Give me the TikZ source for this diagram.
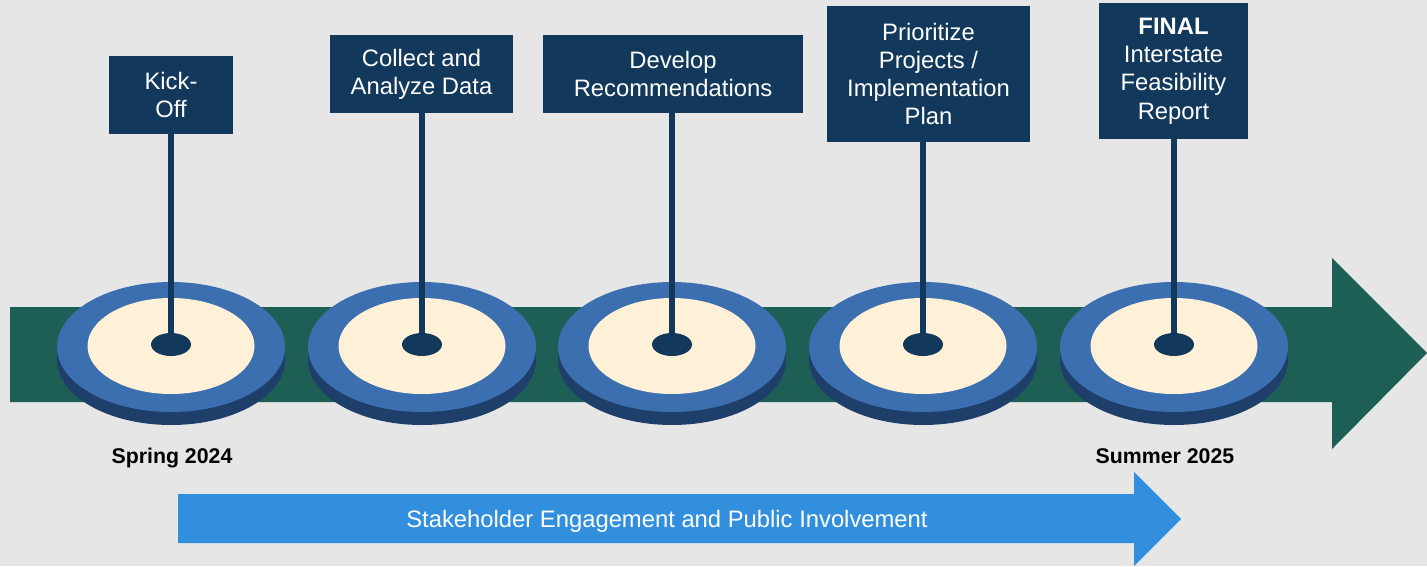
\documentclass[tikz,border=0pt]{standalone}
\usepackage{fontspec}
\setmainfont{Liberation Sans}
\definecolor{bg}{HTML}{E6E6E6}
\definecolor{tlgreen}{HTML}{1D5F55}
\definecolor{navy}{HTML}{12385B}
\definecolor{ring}{HTML}{3C6FB0}
\definecolor{ringside}{HTML}{1F3F6B}
\definecolor{cream}{HTML}{FFF1D8}
\definecolor{skyblue}{HTML}{318FDD}
\tikzset{
  stagebox/.style={fill=navy, text=white, inner sep=0pt, align=center,
    font=\fontsize{23.8}{28.2}\selectfont},
  stem/.style={draw=navy, line width=6pt},
  datelabel/.style={font=\fontsize{21.3}{25}\selectfont\bfseries, text=black, anchor=base},
}
\newcommand{\mydisc}[2]{%
  \fill[ringside] (#1,347) rectangle (#1+114,360);
  \fill[ringside] (#1-114,347) rectangle (#1,360);
  \fill[ringside] (#1,360) ellipse [x radius=114pt, y radius=65pt];
  \fill[ring] (#1,347) ellipse [x radius=114pt, y radius=65pt];
  \fill[cream] (#1,346) ellipse [x radius=83.5pt, y radius=48pt];
  \coordinate (#2) at (#1,344.5);
}
\begin{document}
\begin{tikzpicture}[x=1pt,y=-1pt]
\fill[bg] (0,0) rectangle (1427,566);
\useasboundingbox (0,0) rectangle (1427,566);
% main timeline arrow
\fill[tlgreen] (10,307) -- (1332,307) -- (1332,258) -- (1427,353) -- (1332,449) -- (1332,402) -- (10,402) -- cycle;
% discs
\mydisc{171}{d1}
\mydisc{422}{d2}
\mydisc{672}{d3}
\mydisc{923}{d4}
\mydisc{1174}{d5}
% boxes
\node[stagebox, minimum width=124pt, minimum height=78pt] (b1) at (171,95) {Kick-\\Off};
\node[stagebox, minimum width=183pt, minimum height=78pt] (b2) at (421.5,74) {Collect and\\Analyze Data};
\node[stagebox, minimum width=260pt, minimum height=78pt] (b3) at (673,74) {Develop\\Recommendations};
\node[stagebox, minimum width=203pt, minimum height=136pt] (b4) at (928.5,74) {Prioritize\\Projects /\\Implementation\\Plan};
\node[stagebox, minimum width=149pt, minimum height=136pt] (b5) at (1173.5,71) {\textbf{FINAL}\\Interstate\\Feasibility\\Report};
% stems
\draw[stem] (b1.south -| d1) -- (d1);
\draw[stem] (b2.south -| d2) -- (d2);
\draw[stem] (b3.south -| d3) -- (d3);
\draw[stem] (b4.south -| d4) -- (d4);
\draw[stem] (b5.south -| d5) -- (d5);
\foreach \c in {d1,d2,d3,d4,d5}
  \fill[navy] (\c) ellipse [x radius=20pt, y radius=11.5pt];
% dates
\node[datelabel] (spring) at (172,463) {Spring 2024};
\node[datelabel] (summer) at (1165,463) {Summer 2025};
% stakeholder arrow
\fill[skyblue] (178,494) -- (1134,494) -- (1134,472) -- (1181,519) -- (1134,566) -- (1134,543) -- (178,543) -- cycle;
\node[text=white, font=\fontsize{23.8}{28}\selectfont, anchor=base] (stake) at (667,527) {Stakeholder Engagement and Public Involvement};
\end{tikzpicture}
\end{document}
